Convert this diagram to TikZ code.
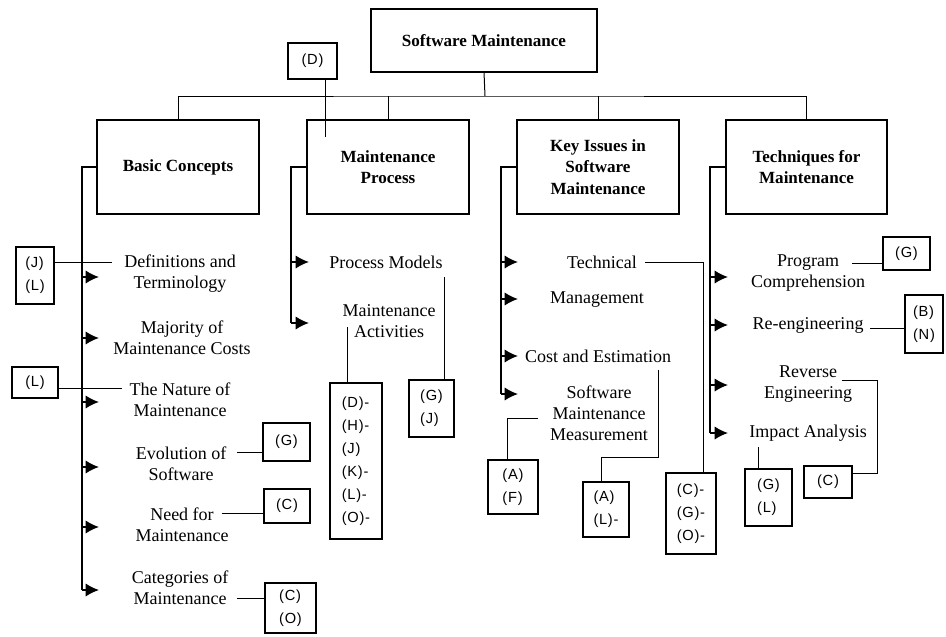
\documentclass[tikz,border=0pt]{standalone}
\usepackage{fontspec}
\setmainfont{Liberation Serif}
\newfontfamily\tagfont[LetterSpace=5]{Liberation Sans}
\usetikzlibrary{arrows.meta,calc}

\begin{document}
\begin{tikzpicture}[x=0.75pt,y=-0.75pt,
  every node/.style={inner sep=0pt,outer sep=0pt},
  head/.style={draw,line width=1.1pt,align=center,
    font=\bfseries\fontsize{12.8}{16}\selectfont},
  item/.style={align=center,font=\fontsize{13.5}{15.75}\selectfont},
  tag/.style={draw,line width=0.8pt,align=left,
    font=\tagfont\fontsize{11}{17.25}\selectfont},
  wire/.style={line width=0.75pt},
  spine/.style={line width=1.1pt},
  feed/.style={line width=1.3pt,-{Latex[length=10pt,width=10pt]}}]

\useasboundingbox[fill=white] (0,0) rectangle (946,636);

% ---- headings ----
\node[head,minimum width=169.5pt,minimum height=47.25pt] (sm) at (484,40.5) {Software Maintenance};
\node[head,minimum width=121.5pt,minimum height=70.5pt] (bc) at (178,167) {Basic Concepts};
\node[head,minimum width=121.5pt,minimum height=70.5pt] (mp) at (388,167) {Maintenance\\Process};
\node[head,minimum width=121.5pt,minimum height=70.5pt] (ki) at (598,167) {Key Issues in\\Software\\Maintenance};
\node[head,minimum width=120.75pt,minimum height=70.5pt] (tm) at (806.5,167) {Techniques for\\Maintenance};

% ---- tree bus ----
\coordinate (bus) at (485,96);
\draw[wire] (sm.south) -- (bus);
\draw[wire] (bc.north) |- (bus) -| (tm.north);
\draw[wire] (mp.north) -- (mp.north |- bus);
\draw[wire] (ki.north) -- (ki.north |- bus);

% ---- topics ----
\node[item] (defs)   at (180,274)   {Definitions and\\Terminology};
\node[item] (major)  at (182,338)   {Majority of\\Maintenance Costs};
\node[item] (nature) at (180,400)   {The Nature of\\Maintenance};
\node[item] (evol)   at (181,464)   {Evolution of\\Software};
\node[item] (need)   at (182,524.5) {Need for\\Maintenance};
\node[item] (cats)   at (180,587.5) {Categories of\\Maintenance};

\node[item] (pm)  at (386,262)   {Process Models};
\node[item] (act) at (389,321.5) {Maintenance\\Activities};

\node[item] (tech) at (602,262) {Technical};
\node[item] (mgmt) at (597,300) {Management};
\node[item] (cost) at (598,356) {Cost and Estimation};
\node[item] (smm)  at (599,413) {Software\\Maintenance\\Measurement};

\node[item] (prog)   at (808,273.5) {Program\\Comprehension};
\node[item] (reeng)  at (808,325)   {Re-engineering};
\node[item] (rev)    at (808,384.5) {Reverse\\Engineering};
\node[item] (impact) at (808,433)   {Impact Analysis};

% ---- spines and feeds ----
\draw[spine] (bc.west) -- (82,167) -- (82,590);
\foreach \y in {277,338,402,467,527,590} \draw[feed] (82,\y) -- (99,\y);

\draw[spine] (mp.west) -- (291,167) -- (291,323);
\foreach \y in {262,323} \draw[feed] (291,\y) -- (309,\y);

\draw[spine] (ki.west) -- (501,167) -- (501,394);
\foreach \y in {262,299,356,394} \draw[feed] (501,\y) -- (518,\y);

\draw[spine] (tm.west) -- (710,167) -- (710,433);
\foreach \y in {277,325,385,433} \draw[feed] (710,\y) -- (728,\y);

% ---- reference tags ----
\node[tag,minimum width=36.75pt,minimum height=27pt] (tD)   at (312.5,61)  {(D)};
\node[tag,minimum width=28.5pt,minimum height=42.75pt] (tJL) at (35,275.5) {(J)\\(L)};
\node[tag,minimum width=34.5pt,minimum height=23.25pt] (tL)  at (35,382.5) {(L)};
\node[tag,minimum width=35.25pt,minimum height=28.5pt] (tG1) at (286.5,442) {(G)};
\node[tag,minimum width=34.5pt,minimum height=25.5pt] (tC1)  at (287,506)   {(C)};
\node[tag,minimum width=38.25pt,minimum height=37.5pt] (tCO) at (290.5,608) {(C)\\(O)};
\node[tag,minimum width=39pt,minimum height=117pt] (tDH)    at (356,461)   {(D)-\\(H)-\\(J)\\(K)-\\(L)-\\(O)-};
\node[tag,minimum width=33.75pt,minimum height=42.75pt] (tGJ) at (431.5,408.5) {(G)\\(J)};
\node[tag,minimum width=37.5pt,minimum height=40.5pt] (tAF)  at (513,487)   {(A)\\(F)};
\node[tag,minimum width=34.5pt,minimum height=41.25pt] (tAL) at (606,509.5) {(A)\\(L)-};
\node[tag,minimum width=37.5pt,minimum height=60.75pt] (tCGO) at (691,513.5) {(C)-\\(G)-\\(O)-};
\node[tag,minimum width=35.25pt,minimum height=24.75pt] (tG2) at (906.5,253.5) {(G)};
\node[tag,minimum width=28.5pt,minimum height=43.5pt] (tBN)  at (924,324)   {(B)\\(N)};
\node[tag,minimum width=36pt,minimum height=24pt] (tC2)      at (828,482)   {(C)};
\node[tag,minimum width=35.25pt,minimum height=42.75pt] (tGL) at (768.5,497.5) {(G)\\(L)};

% ---- free ends beside the topic texts ----
\coordinate (eDefs)   at (112,262);
\coordinate (eNature) at (122,388);
\coordinate (eEvol)   at (237,452);
\coordinate (eNeed)   at (222,513);
\coordinate (eCats)   at (237,598);
\coordinate (ePm)     at (444,277);
\coordinate (eAct)    at (347,327);
\coordinate (eTech)   at (645,262);
\coordinate (eSmm)    at (538,418);
\coordinate (eCost)   at (658,370);
\coordinate (eProg)   at (852,263);
\coordinate (eReeng)  at (870,328);
\coordinate (eRev)    at (842,380);
\coordinate (eImpact) at (758,447);

% ---- tag connectors ----
\draw[wire] ($(tD.south east)+(-12,0)$) -- ++(0,58);
\draw[wire] (tJL.east |- eDefs) -- (eDefs);
\draw[wire] (tL.east |- eNature) -- (eNature);
\draw[wire] (eEvol) -- (tG1.west |- eEvol);
\draw[wire] (eNeed) -- (tC1.west |- eNeed);
\draw[wire] (eCats) -- (tCO.west |- eCats);
\draw[wire] (ePm) -- (tGJ.north -| ePm);
\draw[wire] (eAct) -- (tDH.north -| eAct);
\draw[wire] (eTech) -- (703,262) -- (tCGO.north -| 703,0);
\draw[wire] (eSmm) -- (507,418) -- (tAF.north -| 507,0);
\draw[wire] (eCost) -- (658,457) -- (601,457) -- (tAL.north -| 601,0);
\draw[wire] (eProg) -- (tG2.west |- eProg);
\draw[wire] (eReeng) -- (tBN.west |- eReeng);
\draw[wire] (eRev) -- (877,380) -- (877,473) -- (tC2.east |- 0,473);
\draw[wire] (eImpact) -- (tGL.north -| eImpact);

\end{tikzpicture}
\end{document}
